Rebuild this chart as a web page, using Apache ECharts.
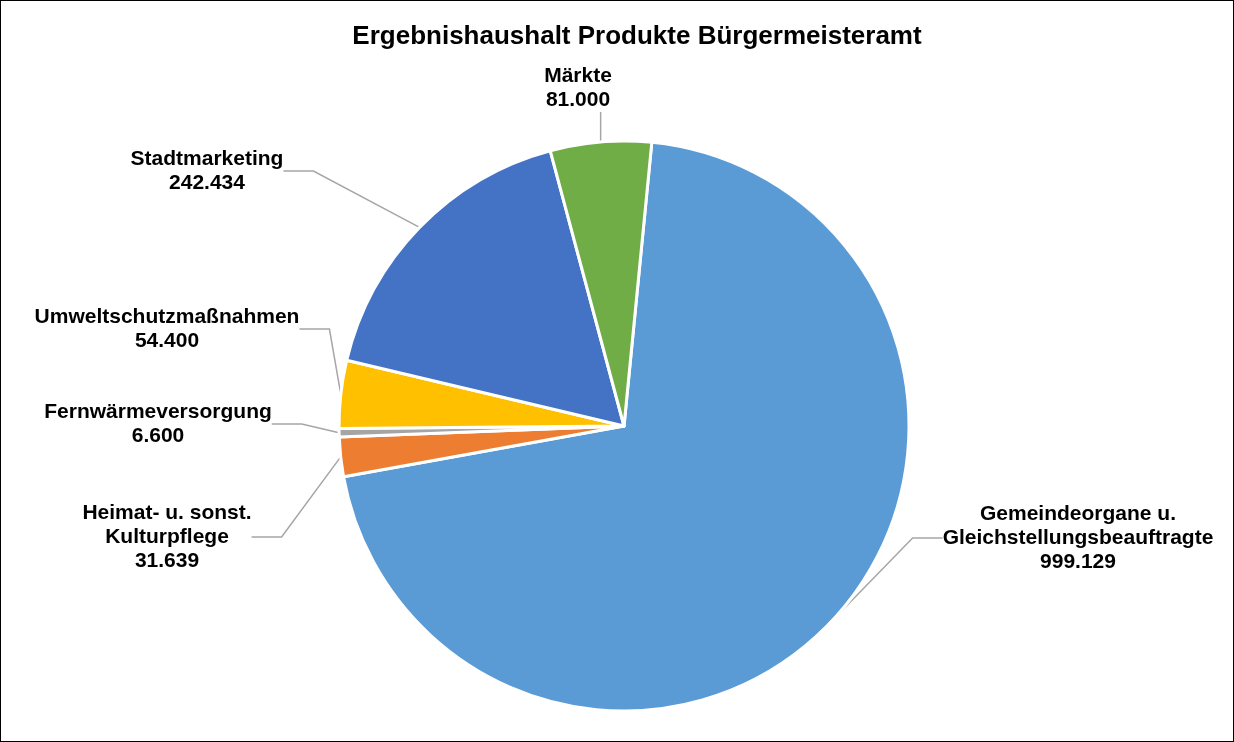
<!DOCTYPE html>
<html>
<head>
<meta charset="utf-8">
<script src="https://cdn.jsdelivr.net/npm/echarts@6/dist/echarts.min.js"></script>
<style>
html,body{margin:0;padding:0;background:#fff;}
#chart{width:1234px;height:742px;box-sizing:border-box;border:1px solid #000;}
</style>
</head>
<body>
<div id="chart"></div>
<script>
// Daten
var names = ['Gemeindeorgane u.\nGleichstellungsbeauftragte', 'Heimat- u. sonst.\nKulturpflege', 'Fernwärmeversorgung', 'Umweltschutzmaßnahmen', 'Stadtmarketing', 'Märkte'];
var values = [999.129, 31.639, 6.600, 54.400, 242.434, 81.000];
var colors = ['#5B9BD5', '#ED7D31', '#A5A5A5', '#FFC000', '#4472C4', '#70AD47'];

// Label-Positionen (Mitte des Textes)
var labelPos = [[1077, 537], [166, 536], [157, 423], [166, 328], [206, 170], [577, 87]];

function fmt(v) {
    return v.toFixed(3);
}

var data = [];
for (var i = 0; i < names.length; i++) {
    data.push({name: names[i], value: values[i], itemStyle: {color: colors[i]}});
}

var myChart = echarts.init(document.getElementById('chart'));
var option = {
    animation: false,
    title: {
        text: 'Ergebnishaushalt Produkte Bürgermeisteramt',
        left: 631,
        textAlign: 'center',
        top: 18,
        textStyle: {
            fontFamily: 'Liberation Sans, Arial, sans-serif',
            fontSize: 26,
            fontWeight: 'bold',
            color: '#000'
        }
    },
    series: [{
        type: 'pie',
        center: [623, 425],
        radius: 285,
        startAngle: 84.4,
        clockwise: true,
        data: data,
        itemStyle: {
            borderColor: '#fff',
            borderWidth: 3
        },
        label: {
            show: true,
            formatter: function (p) {
                return p.name + '\n' + fmt(p.value);
            },
            fontFamily: 'Liberation Sans, Arial, sans-serif',
            fontSize: 21,
            fontWeight: 'bold',
            lineHeight: 24,
            color: '#000',
            align: 'center'
        },
        labelLine: {
            show: true,
            lineStyle: {color: '#A6A6A6', width: 1.5}
        },
        labelLayout: function (params) {
            var p = labelPos[params.dataIndex];
            var res = {
                x: p[0],
                y: p[1],
                align: 'center',
                verticalAlign: 'middle'
            };
            // Märkte: senkrechte Linie wie im Original
            if (params.dataIndex === 5 && params.labelLinePoints) {
                var p0 = params.labelLinePoints[0];
                res.labelLinePoints = [p0, [p0[0], 120], [p0[0], 111]];
            }
            return res;
        }
    }]
};
myChart.setOption(option);
</script>
</body>
</html>
